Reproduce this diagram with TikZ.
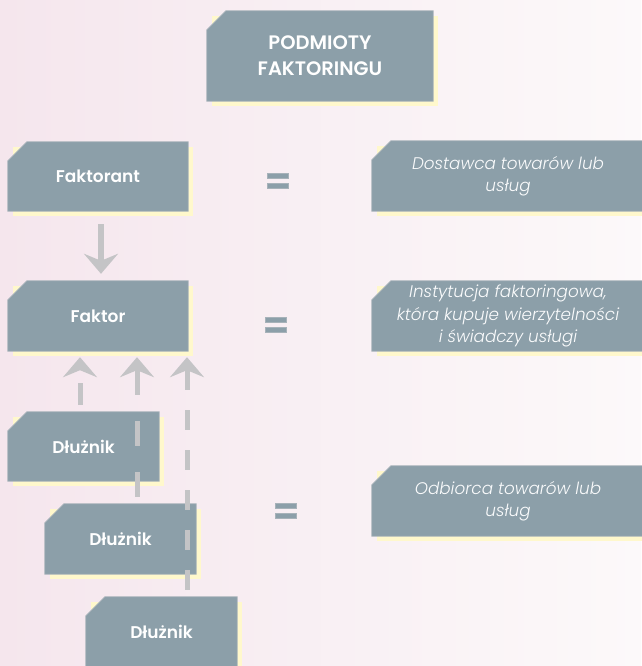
\documentclass[tikz,border=0pt]{standalone}
\usepackage{fontspec}
\usetikzlibrary{arrows.meta}

% Fonts: geometric sans for labels, light italic for descriptions
\IfFontExistsTF{Poppins SemiBold}
  {\newfontfamily\labelfont{Poppins SemiBold}}
  {\IfFontExistsTF{Poppins Medium}
    {\newfontfamily\labelfont{Poppins Medium}}
    {\newfontfamily\labelfontbase{Poppins}\newcommand\labelfont{\labelfontbase\bfseries}}}
\IfFontExistsTF{Poppins Light Italic}
  {\newfontfamily\notefont{Poppins Light Italic}}
  {\IfFontExistsTF{Lato Light Italic}
    {\newfontfamily\notefont{Lato Light Italic}}
    {\IfFontExistsTF{Fira Sans Light Italic}
      {\newfontfamily\notefont{Fira Sans Light Italic}}
      {\newfontfamily\notefontbase{Poppins}\newcommand\notefont{\notefontbase\itshape}}}}

\definecolor{platefill}{HTML}{8C9FA9}
\definecolor{plateedge}{HTML}{A7B2B9}
\definecolor{shadowyel}{HTML}{FFF8CC}
\definecolor{arrowgray}{HTML}{C4C4C6}
\definecolor{bgleft}{HTML}{F5E6ED}
\definecolor{bgright}{HTML}{FCF9FA}

\pgfdeclarelayer{back}
\pgfsetlayers{back,main}

% Chamfered plate with a yellow offset shadow behind a named node
\newcommand\plate[1]{%
  \begin{pgfonlayer}{back}
    \fill[shadowyel] ([shift={(5,5)}]#1.north west) rectangle ([shift={(5,5)}]#1.south east);
    \filldraw[fill=platefill, draw=plateedge, line width=0.8pt]
      ([shift={(0,19)}]#1.north west) -- ([shift={(19,0)}]#1.north west)
      -- (#1.north east) -- (#1.south east) -- (#1.south west) -- cycle;
  \end{pgfonlayer}}

\tikzset{
  plate/.style={inner sep=0pt, text=white, align=center},
  headtext/.style={plate, font=\labelfont\fontsize{19.5}{26}\selectfont},
  roletext/.style={plate, font=\labelfont\fontsize{17}{20}\selectfont},
  notetext/.style={plate, text=white!96!platefill, font=\notefont\fontsize{16.8}{22.5}\selectfont},
  flow/.style={draw=arrowgray, line width=6pt,
    -{Stealth[length=20pt,width=34pt,inset=7pt]}},
  dashflow/.style={flow, line width=5pt},
  eqbar/.style={fill=platefill, draw=plateedge, line width=0.6pt}
}

\begin{document}
\begin{tikzpicture}[x=1pt,y=-1pt]
  \useasboundingbox (0,0) rectangle (641,666);
  \begin{pgfonlayer}{back}
    \shade[left color=bgleft, right color=bgright] (0,0) rectangle (641,666);
  \end{pgfonlayer}

  % heading
  \node[headtext, minimum width=226pt, minimum height=90pt] (title) at (320,56) {PODMIOTY\\FAKTORINGU};
  \plate{title}

  % parties
  \node[roletext, minimum width=180pt, minimum height=69pt] (fa) at (98,176.5) {Faktorant};
  \plate{fa}
  \node[roletext, minimum width=180pt, minimum height=70pt] (fk) at (98,316) {Faktor};
  \plate{fk}
  \node[roletext, minimum width=151pt, minimum height=69pt] (d1) at (83.5,446.5) {Dłużnik};
  \plate{d1}
  \node[roletext, minimum width=151pt, minimum height=70pt] (d2) at (120.5,539) {Dłużnik};
  \plate{d2}
  \node[roletext, minimum width=151pt, minimum height=70pt] (d3) at (161.5,632) {Dłużnik};
  \plate{d3}

  % descriptions
  \node[notetext, minimum width=272pt, minimum height=70pt] (r1) at (508,176) {Dostawca towarów lub\\usług};
  \plate{r1}
  \node[notetext, minimum width=272pt, minimum height=70pt] (r2) at (508,316) {Instytucja faktoringowa,\\która kupuje wierzytelności\\i świadczy usługi};
  \plate{r2}
  \node[notetext, minimum width=272pt, minimum height=70pt] (r3) at (508,501) {Odbiorca towarów lub\\usług};
  \plate{r3}

  % equals signs
  \path[eqbar] (267,173) rectangle (288,178) (267,183) rectangle (288,188);
  \path[eqbar] (265,317) rectangle (286,322) (265,327) rectangle (286,332);
  \path[eqbar] (275,503) rectangle (296,508) (275,513) rectangle (296,518);

  % connectors
  \draw[flow, shorten <=13pt, shorten >=7pt] ([xshift=3pt]fa.south) -- ([xshift=3pt]fk.north);

  \coordinate (s1) at ([xshift=-3.5pt]d1.north);
  \coordinate (s2) at ([xshift=16.5pt]d2.north);
  \coordinate (s3) at ([xshift=25.5pt]d3.north);
  \draw[dashflow, dash pattern=on 22pt off 22pt, dash phase=37pt, shorten >=6pt] (s1) -- (s1 |- fk.south);
  \draw[dashflow, dash pattern=on 25pt off 26pt, dash phase=44pt, shorten >=6pt] (s2) -- (s2 |- fk.south);
  \draw[dashflow, dash pattern=on 20pt off 20pt, dash phase=33pt, shorten >=6pt] (s3) -- (s3 |- fk.south);
\end{tikzpicture}
\end{document}
